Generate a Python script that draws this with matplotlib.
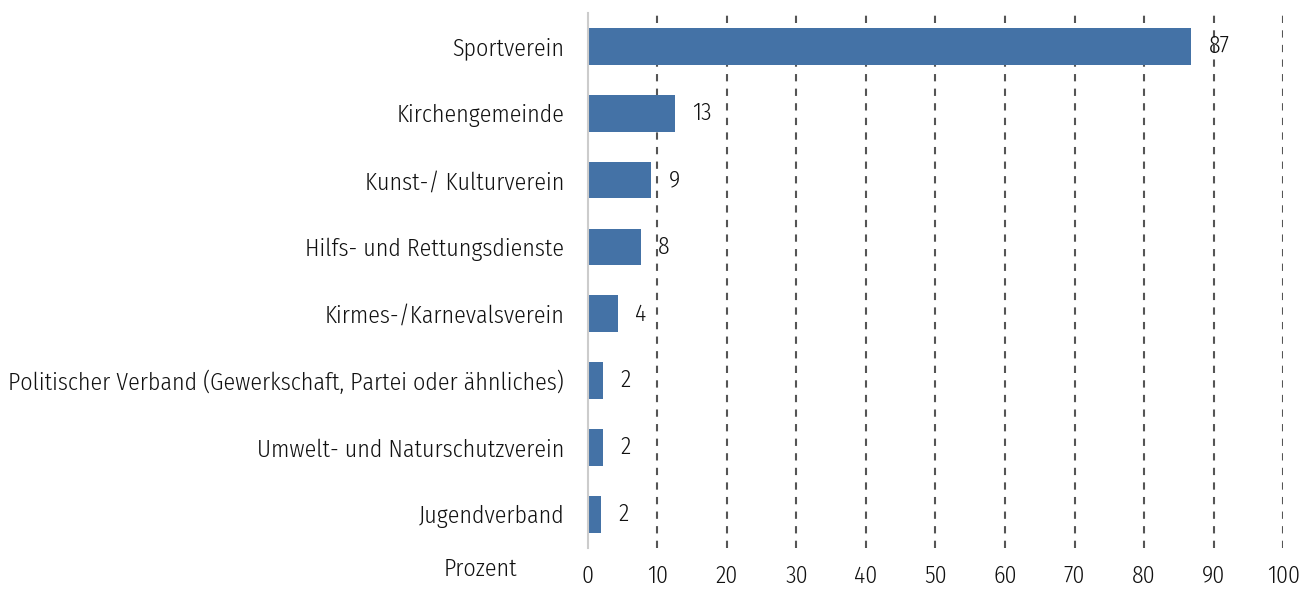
import matplotlib.pyplot as plt
from matplotlib import font_manager

kategorien = ["Sportverein", "Kirchengemeinde", "Kunst-/ Kulturverein",
              "Hilfs- und Rettungsdienste", "Kirmes-/Karnevalsverein",
              "Politischer Verband (Gewerkschaft, Partei oder ähnliches)",
              "Umwelt- und Naturschutzverein", "Jugendverband"]
werte = [86.8, 12.5, 9.1, 7.6, 4.3, 2.2, 2.2, 1.9]
beschriftung = ["87", "13", "9", "8", "4", "2", "2", "2"]
ticks = [0, 10, 20, 30, 40, 50, 60, 70, 80, 90, 100]

# schmale Schrift falls vorhanden, sonst Roboto
namen = {f.name for f in font_manager.fontManager.ttflist}
schrift, groesse = "Roboto", 15.5
for kandidat in ["Fira Sans Condensed", "Roboto Condensed", "Open Sans Condensed", "Liberation Sans Narrow"]:
    if kandidat in namen:
        schrift, groesse = kandidat, 17.2
        break
plt.rcParams['font.family'] = [schrift, 'DejaVu Sans']
plt.rcParams['font.weight'] = 350

fig = plt.figure(figsize=(13.12, 5.89), dpi=100)
ax = fig.add_axes([0.448, 0.07, 0.53, 0.908])

y = range(len(kategorien))
ax.barh(y, werte, height=0.55, color="#4472a6", zorder=2)
for i, v in enumerate(werte):
    ax.text(v + 2.5, i, beschriftung[i], va="center", ha="left", fontsize=groesse, color="#111111", zorder=3)

ax.set_xlim(0, 100)
ax.set_ylim(len(kategorien) - 0.5, -0.5)
ax.set_yticks(list(y))
ax.set_yticklabels(kategorien, fontsize=groesse, color="#111111")
ax.set_xticks(ticks)
ax.set_xticklabels([str(t) for t in ticks], fontsize=groesse, color="#111111")
ax.tick_params(axis="both", length=0)
ax.tick_params(axis="y", pad=17)
ax.tick_params(axis="x", pad=12)

for t in ticks[1:]:
    ax.axvline(t, color="#555555", linestyle=(0, (3.5, 3.5)), linewidth=1.5, zorder=1)
for s in ["top", "right", "bottom"]:
    ax.spines[s].set_visible(False)
ax.spines["left"].set_color("#cccccc")
ax.spines["left"].set_linewidth(1.5)

fig.text(0.366, 0.033, "Prozent", ha="center", va="center", fontsize=groesse, color="#111111")

fig.savefig("out.png", dpi=100)
